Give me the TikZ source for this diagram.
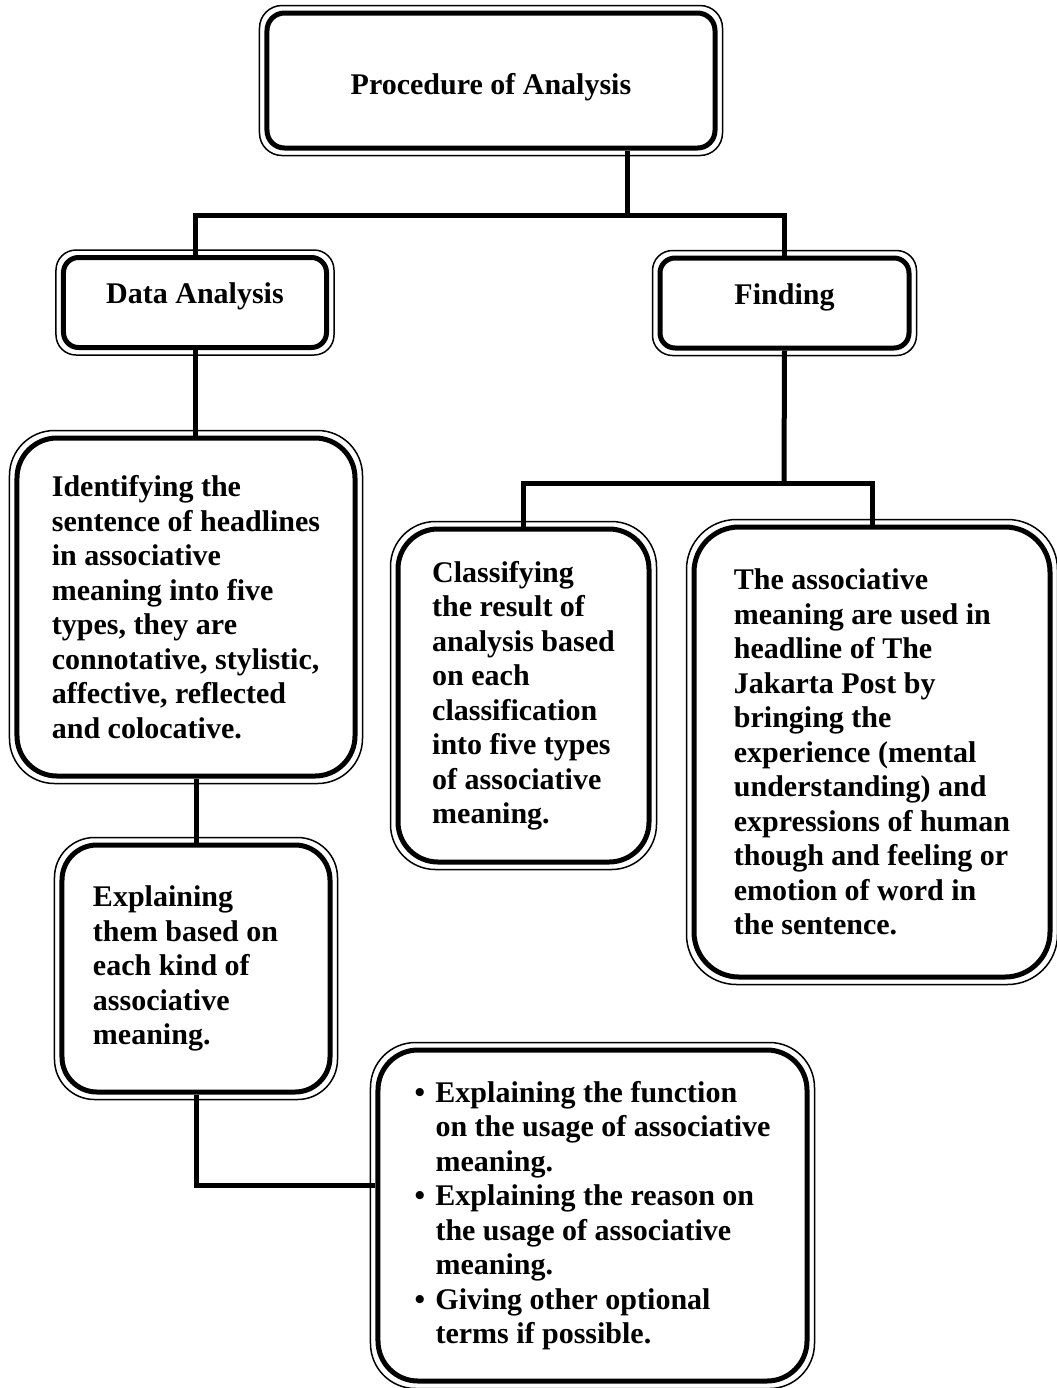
\documentclass[tikz,border=0pt]{standalone}
\usepackage{fontspec}
\setmainfont{Liberation Serif}
\usetikzlibrary{calc}

\newcommand\bul{\makebox[8.4pt][l]{\textbullet}}
\newcommand\bulind{\hspace*{8.4pt}}

\tikzset{
  dbox/.style={draw,line width=2pt,fill=white,rounded corners=#1,align=left,
    inner sep=0pt,font=\fontsize{12}{13.8}\selectfont\bfseries},
  rim/.style={line width=0.6pt},
  link/.style={line width=2pt},
}

\begin{document}
\begin{tikzpicture}[x=0.4pt,y=-0.4pt,line join=miter]
  \useasboundingbox (0,0) rectangle (1057,1388);
  % boxes
  \node[dbox=7pt,minimum width=179.2pt,minimum height=54pt,text height=14pt,text depth=2.6pt] (proc) at (491,80.5) {Procedure of Analysis};
  \node[dbox=6pt,minimum width=105.2pt,minimum height=36pt,text height=8pt,text depth=7pt] (da) at (195,302.5) {Data Analysis};
  \node[dbox=6pt,minimum width=99.6pt,minimum height=36pt,text height=8pt,text depth=7pt] (fi) at (784.5,303) {Finding};
  \node[dbox=16pt,minimum width=135.2pt,minimum height=135.2pt] (id) at (186,607) {Identifying the\\sentence of headlines\\in associative\\meaning into five\\types, they are\\connotative, stylistic,\\affective, reflected\\and colocative.};
  \node[dbox=14pt,minimum width=107.2pt,minimum height=98.8pt,text width=82.4pt,align=flush left] (ex) at (196,968.5) {Explaining\\them based on\\each kind of\\associative\\meaning.};
  \node[dbox=16pt,minimum width=100.4pt,minimum height=133.2pt] (cl) at (523.5,695.5) {Classifying\\the result of\\analysis based\\on each\\classification\\into five types\\of associative\\meaning.};
  \node[dbox=18pt,minimum width=142.4pt,minimum height=180pt] (as) at (872,752) {The associative\\meaning are used in\\headline of The\\Jakarta Post by\\bringing the\\experience (mental\\understanding) and\\expressions of human\\though and feeling or\\emotion of word in\\the sentence.};
  \node[dbox=16pt,minimum width=171.6pt,minimum height=132.4pt] (bu) at (592.5,1215.5) {\bul Explaining the function\\\bulind on the usage of associative\\\bulind meaning.\\\bul Explaining the reason on\\\bulind the usage of associative\\\bulind meaning.\\\bul Giving other optional\\\bulind terms if possible.};
  % thin outer rims
  \foreach \n/\r in {proc/9pt,da/8pt,fi/8pt,id/18pt,ex/16pt,cl/18pt,as/20pt,bu/18pt}
    \draw[rim,rounded corners=\r] ([shift={(-2pt,-2pt)}]\n.south west) rectangle ([shift={(2pt,2pt)}]\n.north east);
  % connectors
  \coordinate (pj) at (627,215);
  \coordinate (fj) at (784,483);
  \coordinate (ej) at (197,1185);
  \draw[link] (proc.south -| pj) -- (pj);
  \draw[link] (da.north) |- (pj -| fi.north) -- (fi.north);
  \draw[link] (da.south) -- (da.south |- id.north);
  \draw[link] (ex.north |- id.south) -- (ex.north);
  \draw[link] (ex.south) |- (bu.west |- ej);
  \draw[link] (fi.south) -- (fj);
  \draw[link] (cl.north) |- (as.north |- fj) -- (as.north);
\end{tikzpicture}
\end{document}
